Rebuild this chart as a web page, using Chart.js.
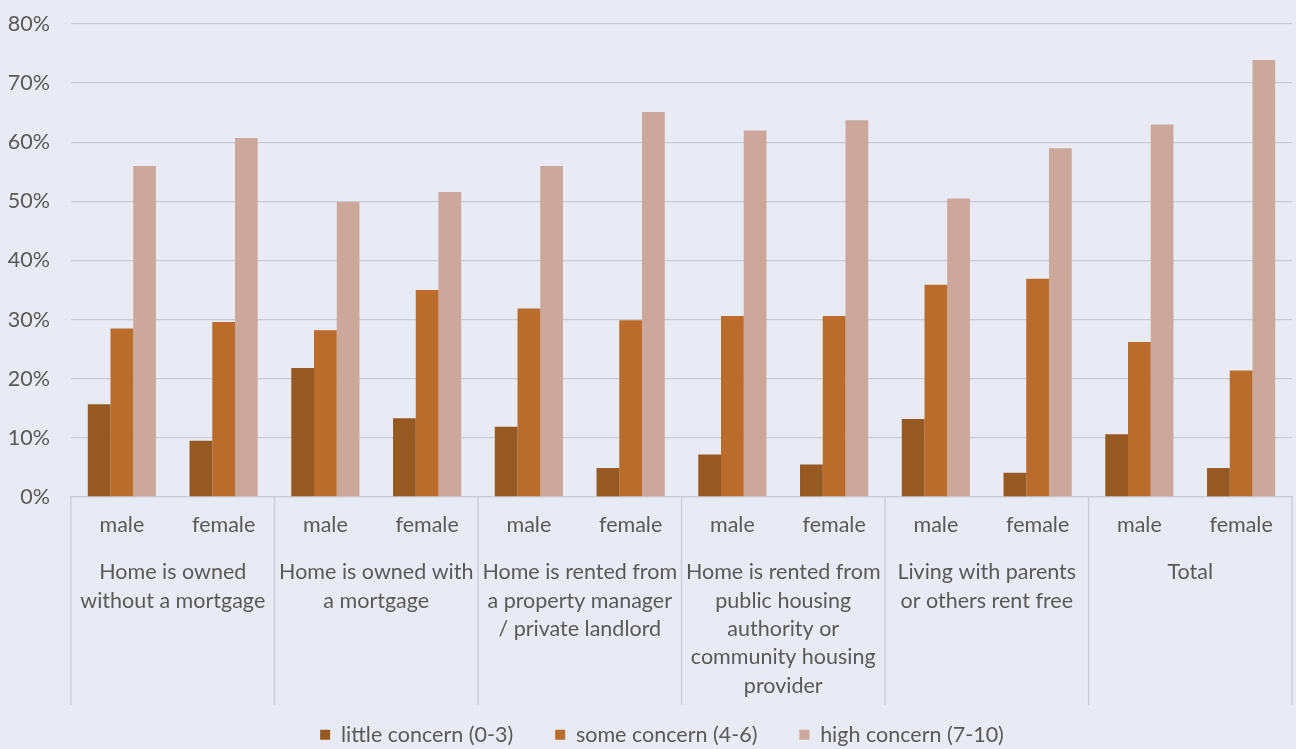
<!DOCTYPE html>
<html>
<head>
<meta charset="utf-8">
<script src="https://cdn.jsdelivr.net/npm/chart.js@4/dist/chart.umd.min.js"></script>
<style>
  html, body { margin: 0; padding: 0; background: #e8ebf4; }
  #wrap { width: 1296px; height: 749px; position: relative; }
</style>
</head>
<body>
<div id="wrap"><canvas id="chart"></canvas></div>
<script>
// Housing situation groups (two genders each)
const groups = [
  ["Home is owned", "without a mortgage"],
  ["Home is owned with", "a mortgage"],
  ["Home is rented from", "a property manager", "/ private landlord"],
  ["Home is rented from", "public housing", "authority or", "community housing", "provider"],
  ["Living with parents", "or others rent free"],
  ["Total"]
];
const genders = ["male", "female"];
const categories = groups.flatMap(() => genders);

// Share of respondents (%) per concern level, male/female for each group in order
const littleConcern = [15.7, 9.5, 21.8, 13.3, 11.9, 4.9, 7.2, 5.5, 13.2, 4.1, 10.6, 4.9];
const someConcern   = [28.5, 29.6, 28.2, 35.0, 31.9, 29.9, 30.6, 30.6, 35.9, 36.9, 26.2, 21.4];
const highConcern   = [56.0, 60.7, 49.9, 51.6, 56.0, 65.1, 62.0, 63.7, 50.5, 59.0, 63.0, 73.9];

const yTicks = [0, 10, 20, 30, 40, 50, 60, 70, 80];

const TEXT = '#595959';
const GRID = '#c9ccd6';
const FONT = 'Lato';
const FSIZE = 21.5;

// Background, room for the tall group labels, legend offset, and group separators
const groupFrame = {
  id: 'groupFrame',
  beforeDraw(chart) {
    const { ctx } = chart;
    ctx.save();
    ctx.fillStyle = '#e8ebf4';
    ctx.fillRect(0, 0, chart.width, chart.height);
    ctx.restore();
  },
  afterLayout(chart) {
    // group labels may run down into the band beside the legend
    chart.scales.x2.bottom = chart.height;
    const lg = chart.legend;
    lg.left += 16;
    lg.right += 16;
  },
  afterDraw(chart) {
    const { ctx } = chart;
    const x = chart.scales.x;
    const half = (x.getPixelForValue(1) - x.getPixelForValue(0)) / 2;
    const top = x.top;
    const bottom = chart.legend.top + 23;
    ctx.save();
    ctx.strokeStyle = GRID;
    ctx.lineWidth = 1.3;
    for (let g = 0; g <= groups.length; g++) {
      const px = g < groups.length
        ? x.getPixelForValue(g * genders.length) - half
        : x.getPixelForValue(categories.length - 1) + half;
      ctx.beginPath();
      ctx.moveTo(px, top);
      ctx.lineTo(px, bottom);
      ctx.stroke();
    }
    ctx.restore();
  }
};

new Chart(document.getElementById('chart'), {
  type: 'bar',
  data: {
    labels: categories,
    datasets: [
      { label: 'little concern (0-3)', data: littleConcern, backgroundColor: '#965921' },
      { label: 'some concern (4-6)',   data: someConcern,   backgroundColor: '#b96c2b' },
      { label: 'high concern (7-10)',  data: highConcern,   backgroundColor: '#cca79b' }
    ]
  },
  options: {
    responsive: true,
    maintainAspectRatio: false,
    animation: false,
    devicePixelRatio: 1,
    datasets: { bar: { categoryPercentage: 0.67, barPercentage: 1.0 } },
    layout: { padding: { left: 0, right: 4, top: 24, bottom: 0 } },
    plugins: {
      legend: {
        position: 'bottom',
        maxHeight: 67,
        labels: {
          color: TEXT,
          font: { family: FONT, size: FSIZE },
          boxWidth: 10,
          boxHeight: 10,
          padding: 42
        }
      },
      tooltip: { enabled: false }
    },
    scales: {
      y: {
        min: 0,
        max: 80,
        afterBuildTicks: (s) => { s.ticks = yTicks.map(v => ({ value: v })); },
        afterFit: (s) => { s.width = 71; s.paddingTop = 0; s.paddingBottom = 0; },
        border: { display: false },
        grid: { color: GRID, lineWidth: 1.3, drawTicks: false },
        ticks: {
          color: TEXT,
          padding: 21,
          font: { family: FONT, size: FSIZE },
          callback: (v) => v + '%'
        }
      },
      x: {
        position: 'bottom',
        afterFit: (s) => { s.height = 50; },
        border: { display: true, color: GRID, width: 1.3 },
        grid: { display: false, drawTicks: false },
        ticks: {
          color: TEXT,
          padding: 15,
          autoSkip: false,
          maxRotation: 0,
          minRotation: 0,
          font: { family: FONT, size: FSIZE }
        }
      },
      x2: {
        type: 'category',
        labels: groups,
        position: 'bottom',
        offset: true,
        afterFit: (s) => { s.height = 135; },
        border: { display: false },
        grid: { display: false, drawTicks: false },
        ticks: {
          color: TEXT,
          padding: 11,
          autoSkip: false,
          maxRotation: 0,
          minRotation: 0,
          font: { family: FONT, size: FSIZE, lineHeight: 1.32 }
        }
      }
    }
  },
  plugins: [groupFrame]
});
</script>
</body>
</html>
